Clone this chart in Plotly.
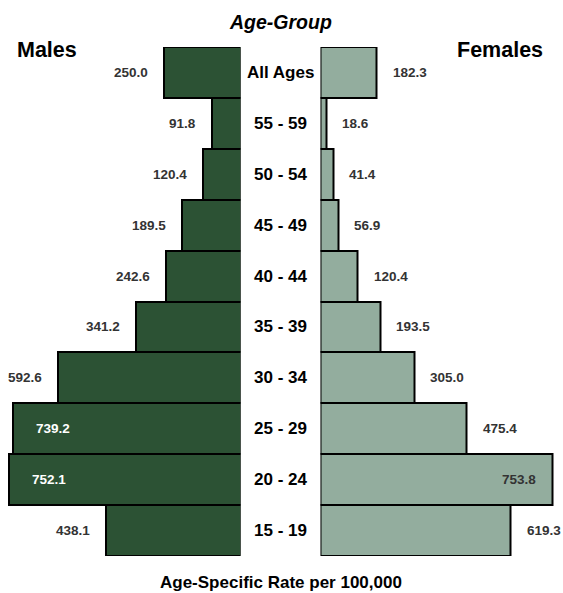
import plotly.graph_objects as go

# Age-specific rates per 100,000, top row first
age_groups = ["All Ages", "55 - 59", "50 - 54", "45 - 49", "40 - 44",
              "35 - 39", "30 - 34", "25 - 29", "20 - 24", "15 - 19"]
males = [250.0, 91.8, 120.4, 189.5, 242.6, 341.2, 592.6, 739.2, 752.1, 438.1]
females = [182.3, 18.6, 41.4, 56.9, 120.4, 193.5, 305.0, 475.4, 753.8, 619.3]

# labels drawn inside the bar instead of beside it
males_inside = {"25 - 29", "20 - 24"}
females_inside = {"20 - 24"}

W, H = 563, 593
PX_PER_UNIT = 0.3075
LEFT_ZERO = 240.5    # pixel x of the males' zero line
RIGHT_ZERO = 320.5   # pixel x of the females' zero line
TOP, BOTTOM = 47, 556

MALE_COLOR = "#2c5234"
FEMALE_COLOR = "#93ad9e"
FONT = "Liberation Sans, Arial, sans-serif"
VALUE_SIZE = 13.5

fig = go.Figure()
fig.add_trace(go.Bar(
    y=age_groups, x=males, orientation="h", xaxis="x", yaxis="y",
    width=1, marker=dict(color=MALE_COLOR, line=dict(color="black", width=2)),
    hoverinfo="skip", showlegend=False,
))
fig.add_trace(go.Bar(
    y=age_groups, x=females, orientation="h", xaxis="x2", yaxis="y",
    width=1, marker=dict(color=FEMALE_COLOR, line=dict(color="black", width=2)),
    hoverinfo="skip", showlegend=False,
))


def value_label(x, xref, y, anchor, shift, color):
    return dict(x=x, xref=xref, y=y, yref="y", text=f"<b>{x:.1f}</b>",
                xanchor=anchor, yanchor="middle", xshift=shift,
                showarrow=False,
                font=dict(family=FONT, size=VALUE_SIZE, color=color))


annotations = []
for g, m, f in zip(age_groups, males, females):
    # centre age-group label
    annotations.append(dict(
        x=280.5 / W, xref="paper", y=g, yref="y", text=f"<b>{g}</b>",
        xanchor="center", yanchor="middle", showarrow=False,
        font=dict(family=FONT, size=17, color="black"),
    ))
    if g in males_inside:
        annotations.append(value_label(m, "x", g, "left", 21, "white"))
    else:
        annotations.append(value_label(m, "x", g, "right", -14, "#333333"))
    if g in females_inside:
        annotations.append(value_label(f, "x2", g, "right", -14, "#333333"))
    else:
        annotations.append(value_label(f, "x2", g, "left", 14, "#333333"))


def title(text, px, py, size):
    return dict(x=px / W, y=1 - py / H, xref="paper", yref="paper",
                text=text, xanchor="center", yanchor="middle",
                showarrow=False, font=dict(family=FONT, size=size, color="black"))


annotations += [
    title("<b><i>Age-Group</i></b>", 280.5, 21.5, 19.5),
    title("<b>Males</b>", 47.5, 50.5, 21.5),
    title("<b>Females</b>", 500, 50.5, 21.5),
    title("<b>Age-Specific Rate per 100,000</b>", 280.5, 582.5, 17),
]

hidden = dict(showticklabels=False, showgrid=False, zeroline=False,
              showline=False, ticks="", fixedrange=True)

fig.update_layout(
    width=W, height=H,
    margin=dict(l=0, r=0, t=0, b=0),
    paper_bgcolor="white", plot_bgcolor="white",
    bargap=0,
    xaxis=dict(domain=[0, LEFT_ZERO / W], range=[LEFT_ZERO / PX_PER_UNIT, 0],
               anchor="y", **hidden),
    xaxis2=dict(domain=[RIGHT_ZERO / W, 1],
                range=[0, (W - RIGHT_ZERO) / PX_PER_UNIT], anchor="y", **hidden),
    yaxis=dict(domain=[1 - BOTTOM / H, 1 - TOP / H], categoryorder="array",
               categoryarray=age_groups, autorange="reversed", **hidden),
    annotations=annotations,
)

fig.write_html("out.html")
